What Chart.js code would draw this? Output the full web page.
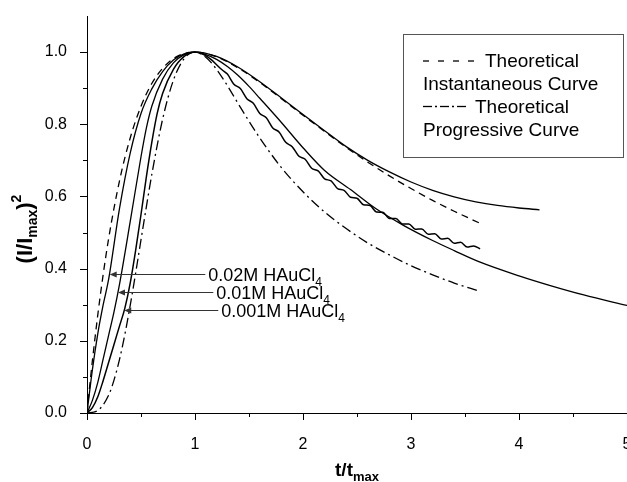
<!DOCTYPE html>
<html>
<head>
<meta charset="utf-8">
<script src="https://cdn.jsdelivr.net/npm/chart.js@4.4.1/dist/chart.umd.min.js"></script>
<style>
  html, body { margin: 0; padding: 0; background: #fff; }
  canvas { display: block; }
</style>
</head>
<body>
<canvas id="chart" width="627" height="482"></canvas>
<script>
// Dimensionless current transients: x = t/tmax, y = (I/Imax)^2

// Theoretical instantaneous nucleation curve
const instT = [0, 0.025, 0.05, 0.1, 0.15, 0.2, 0.3, 0.4, 0.5, 0.6, 0.7, 0.8, 0.9, 1.0, 1.2, 1.4, 1.6, 1.8, 2.0, 2.2, 2.4, 2.6, 2.8, 3.0, 3.2, 3.4, 3.63];
const instY = [0, 0.075, 0.145, 0.272, 0.384, 0.483, 0.642, 0.762, 0.850, 0.913, 0.955, 0.982, 0.996, 1.000, 0.987, 0.956, 0.916, 0.871, 0.825, 0.780, 0.736, 0.695, 0.657, 0.622, 0.589, 0.559, 0.527];

// Theoretical progressive nucleation curve
const progT = [0, 0.1, 0.2, 0.25, 0.3, 0.35, 0.4, 0.45, 0.5, 0.55, 0.6, 0.7, 0.8, 0.9, 1.0, 1.1, 1.2, 1.3, 1.4, 1.6, 1.8, 2.0, 2.2, 2.4, 2.6, 2.8, 3.0, 3.2, 3.4, 3.63];
const progY = [0, 0.007, 0.049, 0.091, 0.147, 0.217, 0.298, 0.387, 0.480, 0.572, 0.661, 0.814, 0.922, 0.982, 1.000, 0.986, 0.952, 0.907, 0.857, 0.762, 0.680, 0.613, 0.557, 0.511, 0.471, 0.438, 0.408, 0.383, 0.360, 0.338];

// Experimental transient, 0.02M HAuCl4
const hiT = [0, 0.05, 0.1, 0.15, 0.2, 0.3, 0.4, 0.5, 0.6, 0.7, 0.8, 0.9, 1.0, 1.2, 1.4, 1.6, 1.8, 2.0, 2.2, 2.4, 2.6, 2.8, 3.0, 3.2, 3.4, 3.6, 3.8, 4.0, 4.19];
const hiY = [0, 0.12, 0.22, 0.30, 0.37, 0.565, 0.72, 0.83, 0.898, 0.946, 0.978, 0.995, 1.0, 0.988, 0.958, 0.918, 0.873, 0.827, 0.782, 0.738, 0.700, 0.668, 0.640, 0.617, 0.599, 0.585, 0.575, 0.568, 0.563];

// Experimental transient, 0.01M HAuCl4
const midT = [0, 0.05, 0.1, 0.15, 0.2, 0.25, 0.3, 0.4, 0.5, 0.55, 0.6, 0.7, 0.8, 0.9, 1.0, 1.1, 1.2, 1.3, 1.4, 1.5, 1.6, 1.8, 2.0, 2.2, 2.44, 2.68, 2.93, 3.2, 3.4, 3.64, 4.0, 4.29, 4.6, 5.0];
const midY = [0, 0.035, 0.085, 0.15, 0.215, 0.28, 0.355, 0.53, 0.71, 0.79, 0.85, 0.925, 0.97, 0.993, 1.0, 0.993, 0.980, 0.960, 0.935, 0.905, 0.872, 0.805, 0.735, 0.672, 0.619, 0.565, 0.520, 0.478, 0.450, 0.418, 0.380, 0.353, 0.327, 0.298];

// Experimental transient, 0.001M HAuCl4 (noisy decay)
const lowT = [0, 0.05, 0.1, 0.15, 0.2, 0.25, 0.3, 0.35, 0.4, 0.45, 0.5, 0.55, 0.6, 0.65, 0.7, 0.8, 0.9, 1.0, 1.05, 1.1, 1.15, 1.2, 1.25,
  1.30, 1.36, 1.42, 1.48, 1.54, 1.60, 1.66, 1.72, 1.78, 1.84, 1.90, 1.96, 2.02, 2.08, 2.14, 2.20, 2.26, 2.32, 2.38, 2.44,
  2.50, 2.56, 2.62, 2.68, 2.74, 2.80, 2.86, 2.92, 2.98, 3.04, 3.10, 3.16, 3.22, 3.28, 3.34, 3.40, 3.46, 3.52, 3.58, 3.64];
const lowY = [0, 0.015, 0.045, 0.09, 0.14, 0.19, 0.24, 0.29, 0.36, 0.45, 0.55, 0.655, 0.75, 0.83, 0.885, 0.952, 0.988, 1.0, 0.997, 0.99, 0.979, 0.965, 0.951,
  0.939, 0.911, 0.899, 0.871, 0.858, 0.830, 0.818, 0.790, 0.778, 0.750, 0.738, 0.712, 0.703, 0.678, 0.671, 0.649, 0.643, 0.622, 0.617, 0.598,
  0.595, 0.577, 0.575, 0.557, 0.556, 0.539, 0.539, 0.524, 0.524, 0.509, 0.510, 0.495, 0.497, 0.482, 0.484, 0.470, 0.473, 0.460, 0.463, 0.455];

// Axis ticks
const xMajorTicks = [0, 1, 2, 3, 4, 5];
const xTickLabels = ['0', '1', '2', '3', '4', '5'];
const yMajorTicks = [0, 0.2, 0.4, 0.6, 0.8, 1.0];
const yTickLabels = ['0.0', '0.2', '0.4', '0.6', '0.8', '1.0'];

// Concentration labels and the curve points their arrows touch
const concLabels = ['0.02M', '0.01M', '0.001M'];
const arrowT = [0.21, 0.287, 0.345];
const arrowY = [0.385, 0.336, 0.285];

// Legend entries
const legendRows = ['Theoretical', 'Instantaneous Curve', 'Theoretical', 'Progressive Curve'];

const FONT = '"Liberation Sans", Arial, Helvetica, sans-serif';

function pts(t, y) { return t.map((v, i) => ({ x: v, y: y[i] })); }

function findLabel(ticks, labels, v) {
  for (let i = 0; i < ticks.length; i++) {
    if (Math.abs(ticks[i] - v) < 1e-6) return labels[i];
  }
  return '';
}

function line(ctx, x1, y1, x2, y2) {
  ctx.beginPath(); ctx.moveTo(x1, y1); ctx.lineTo(x2, y2); ctx.stroke();
}

// Draws runs of text with different sizes / vertical shifts; returns end x
function richText(ctx, parts, x, y, measureOnly) {
  for (const p of parts) {
    ctx.font = (p.bold ? 'bold ' : '') + p.size + 'px ' + FONT;
    if (!measureOnly) ctx.fillText(p.t, x, y + (p.dy || 0));
    x += ctx.measureText(p.t).width;
  }
  return x;
}

const decorations = {
  id: 'decorations',
  afterDraw(chart) {
    const ctx = chart.ctx;
    const sx = chart.scales.x, sy = chart.scales.y;
    const x0 = sy.right, y0 = sx.top;
    ctx.save();
    ctx.strokeStyle = '#000';
    ctx.fillStyle = '#000';
    ctx.lineWidth = 1;

    // major / minor tick marks
    for (let i = 0; i <= 10; i++) {
      const px = Math.round(sx.getPixelForValue(i * 0.5)) + 0.5;
      line(ctx, px, y0, px, y0 + (i % 2 === 0 ? 7 : 4));
    }
    for (let i = 0; i <= 10; i++) {
      const py = Math.round(sy.getPixelForValue(i * 0.1)) + 0.5;
      line(ctx, x0, py, x0 - (i % 2 === 0 ? 7 : 4), py);
    }

    ctx.textBaseline = 'alphabetic';
    ctx.textAlign = 'left';

    // x axis title: t/t_max
    const xParts = [
      { t: 't/t', size: 19, bold: true },
      { t: 'max', size: 13, bold: true, dy: 5 }
    ];
    const xw = richText(ctx, xParts, 0, 0, true);
    const xc = (sx.left + sx.right) / 2;
    richText(ctx, xParts, xc - xw / 2, 476);

    // y axis title: (I/I_max)^2
    const yParts = [
      { t: '(I/I', size: 22, bold: true },
      { t: 'max', size: 14, bold: true, dy: 5 },
      { t: ')', size: 22, bold: true },
      { t: '2', size: 14, bold: true, dy: -11 }
    ];
    const yw = richText(ctx, yParts, 0, 0, true);
    ctx.save();
    ctx.translate(32, 229);
    ctx.rotate(-Math.PI / 2);
    richText(ctx, yParts, -yw / 2, 0);
    ctx.restore();

    // concentration labels with arrows
    const labelRight = [322, 330, 345];
    concLabels.forEach((lab, i) => {
      const tipX = sx.getPixelForValue(arrowT[i]);
      const tipY = Math.round(sy.getPixelForValue(arrowY[i])) + 0.5;
      const parts = [
        { t: lab + ' HAuCl', size: 18 },
        { t: '4', size: 12, dy: 5 }
      ];
      const w = richText(ctx, parts, 0, 0, true);
      const left = labelRight[i] - w;
      ctx.fillStyle = '#000';
      richText(ctx, parts, left, tipY + 6.5);
      ctx.strokeStyle = '#333';
      line(ctx, left - 3, tipY, tipX + 6, tipY);
      ctx.fillStyle = '#333';
      ctx.beginPath();
      ctx.moveTo(tipX, tipY);
      ctx.lineTo(tipX + 7, tipY - 3);
      ctx.lineTo(tipX + 7, tipY + 3);
      ctx.closePath();
      ctx.fill();
    });

    // legend box
    ctx.fillStyle = '#fff';
    ctx.fillRect(403.5, 34.5, 220, 123);
    ctx.strokeStyle = '#555';
    ctx.lineWidth = 1;
    ctx.strokeRect(403.5, 34.5, 220, 123);

    ctx.fillStyle = '#000';
    ctx.strokeStyle = '#000';
    ctx.font = '19px ' + FONT;
    const lx = 423;
    const base = [67, 90, 113, 136];
    // dashed sample
    ctx.lineWidth = 1.3;
    for (let k = 0; k < 4; k++) line(ctx, lx + k * 15, 61, lx + k * 15 + 6, 61);
    ctx.fillText(legendRows[0], 485, base[0]);
    ctx.fillText(legendRows[1], lx, base[1]);
    // dash-dot sample
    line(ctx, lx, 106.5, lx + 9, 106.5);
    line(ctx, lx + 12, 106.5, lx + 14, 106.5);
    line(ctx, lx + 17, 106.5, lx + 26, 106.5);
    line(ctx, lx + 29, 106.5, lx + 31, 106.5);
    line(ctx, lx + 34, 106.5, lx + 43, 106.5);
    ctx.fillText(legendRows[2], 475, base[2]);
    ctx.fillText(legendRows[3], lx, base[3]);

    ctx.restore();
  }
};

function curve(t, y, dash, width) {
  return {
    data: pts(t, y),
    showLine: true,
    borderColor: '#000',
    borderWidth: width || 1.3,
    borderDash: dash || [],
    pointRadius: 0,
    fill: false,
    cubicInterpolationMode: 'monotone'
  };
}

new Chart(document.getElementById('chart'), {
  type: 'scatter',
  data: {
    datasets: [
      curve(instT, instY, [7, 5]),
      curve(progT, progY, [10, 4, 2, 4]),
      curve(hiT, hiY),
      curve(midT, midY),
      curve(lowT, lowY, null, 1.5)
    ]
  },
  options: {
    responsive: false,
    animation: false,
    devicePixelRatio: 1,
    layout: { padding: { top: 16, left: 0, right: 0, bottom: 0 } },
    plugins: { legend: { display: false }, tooltip: { enabled: false } },
    scales: {
      x: {
        type: 'linear',
        min: 0, max: 5,
        grid: { display: false },
        border: { display: true, color: '#000', width: 1 },
        ticks: {
          stepSize: 0.5,
          autoSkip: false,
          maxRotation: 0,
          padding: 14,
          color: '#000',
          font: { family: FONT, size: 16 },
          callback: (v) => findLabel(xMajorTicks, xTickLabels, v)
        },
        afterFit: (s) => { s.height = 69; s.paddingLeft = 0; s.paddingRight = 0; }
      },
      y: {
        min: 0, max: 1.1,
        grid: { display: false },
        border: { display: true, color: '#000', width: 1 },
        ticks: {
          stepSize: 0.1,
          autoSkip: false,
          padding: 12,
          color: '#000',
          font: { family: FONT, size: 16 },
          callback: (v) => findLabel(yMajorTicks, yTickLabels, v)
        },
        afterFit: (s) => { s.width = 87; s.paddingTop = 0; s.paddingBottom = 0; }
      }
    }
  },
  plugins: [decorations]
});
</script>
</body>
</html>
